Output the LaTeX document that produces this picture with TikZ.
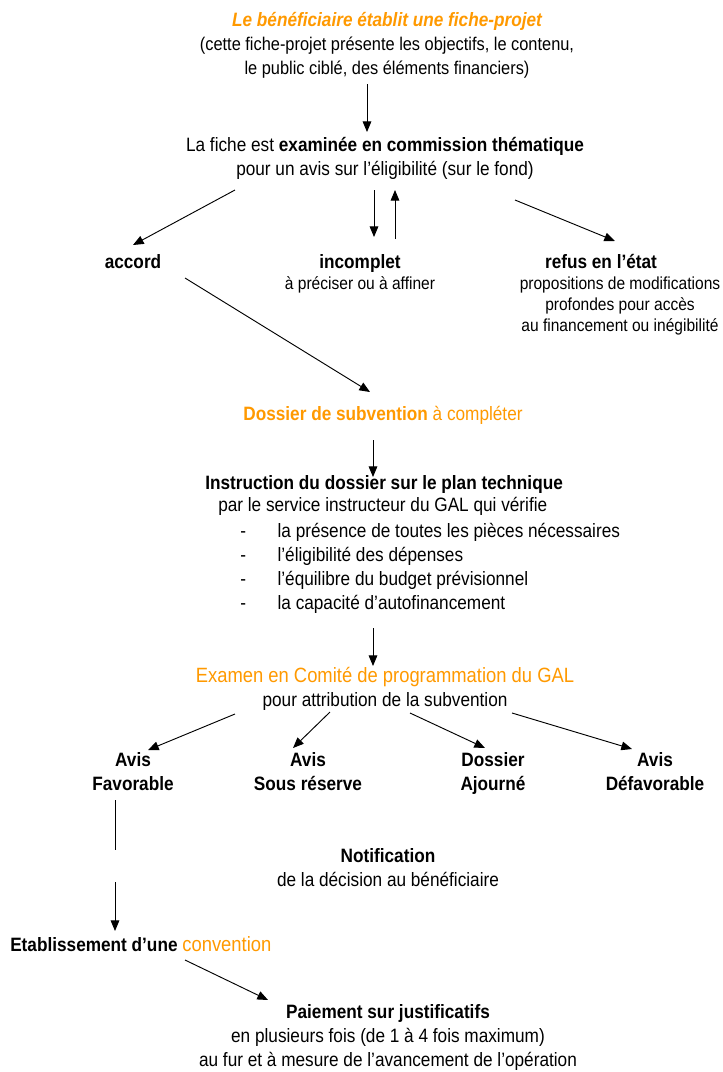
\documentclass[tikz,border=0pt]{standalone}
\usepackage{fontspec}
\setmainfont{Liberation Sans}[FakeStretch=0.89]
\usetikzlibrary{arrows.meta}
\definecolor{orng}{RGB}{255,153,0}
\newcommand{\fsn}{\fontsize{14.5}{18}\selectfont}
\newcommand{\fsm}{\fontsize{13.8}{18}\selectfont}
\newcommand{\fss}{\fontsize{13.1}{15.75}\selectfont}
\newcommand{\fsl}{\fontsize{15.5}{18}\selectfont}
\newcommand{\itm}{\makebox[28pt][l]{-}}
\begin{document}
\begin{tikzpicture}[x=0.75pt,y=-0.75pt,
  txt/.style={inner sep=0pt, anchor=north, align=center, font=\fsn},
  txs/.style={inner sep=0pt, anchor=north, align=center, font=\fss},
  arr/.style={-{Triangle[length=8pt,width=6.5pt]}, line width=0.7pt},
  ln/.style={line width=0.7pt}]
\useasboundingbox (0,0) rectangle (723,1072);

% nodes
\node[txt] (fiche) at (387,12) {{\color{orng}\bfseries\itshape Le bénéficiaire établit une fiche-projet}\\{\fsm (cette fiche-projet présente les objectifs, le contenu,}\\{\fsm le public ciblé, des éléments financiers)}};
\node[txt] (exam) at (385,137) {La fiche est \textbf{examinée en commission thématique}\\pour un avis sur l’éligibilité (sur le fond)};
\node[txt] (accord) at (133,254) {\textbf{accord}};
\node[txs] (incomplet) at (360,254) {{\fsn\bfseries incomplet}\\à préciser ou à affiner};
\node[txs] (refus) at (620,254) {{\fsn\bfseries refus en l’état}\hspace*{28.5pt}\\propositions de modifications\\profondes pour accès\\au financement ou inégibilité};
\node[txt] (dossier) at (383,406) {\color{orng}\textbf{Dossier de subvention} à compléter};
\node[txt, anchor=north west] (instr) at (205,475) {\textbf{Instruction du dossier sur le plan technique}};
\node[txt, anchor=north west] (service) at (218,497) {par le service instructeur du GAL qui vérifie};
\node[txt, anchor=north west, align=left] (liste) at (240,523) {\itm la présence de toutes les pièces nécessaires\\\itm l’éligibilité des dépenses\\\itm l’équilibre du budget prévisionnel\\\itm la capacité d’autofinancement};
\node[txt] (comite) at (385,667) {{\color{orng}\fsl Examen en Comité de programmation du GAL}\\pour attribution de la subvention};
\node[txt, font=\fsn\bfseries] (fav) at (133,752) {Avis\\Favorable};
\node[txt, font=\fsn\bfseries] (sous) at (308,752) {Avis\\Sous réserve};
\node[txt, font=\fsn\bfseries] (ajourne) at (493,752) {Dossier\\Ajourné};
\node[txt, font=\fsn\bfseries] (defav) at (655,752) {Avis\\Défavorable};
\node[txt] (notif) at (388,848) {\textbf{Notification}\\de la décision au bénéficiaire};
\node[txt, anchor=north west] (conv) at (10,936) {\textbf{Etablissement d’une} {\color{orng}\fsl convention}};
\node[txt] (paie) at (388,1004) {\textbf{Paiement sur justificatifs}\\en plusieurs fois (de 1 à 4 fois maximum)\\au fur et à mesure de l’avancement de l’opération};

% coordinates for connector ends
\coordinate (c1) at (367,84);   \coordinate (c1e) at (367,132);
\coordinate (c2) at (235,190);  \coordinate (c2e) at (133,245);
\coordinate (c3) at (374,190);  \coordinate (c3e) at (374,237);
\coordinate (c4) at (395,239);  \coordinate (c4e) at (395,190);
\coordinate (c5) at (515,200);  \coordinate (c5e) at (615,241);
\coordinate (c6) at (185,278);  \coordinate (c6e) at (370,392);
\coordinate (c7) at (373,440);  \coordinate (c7e) at (373,477);
\coordinate (c8) at (373,628);  \coordinate (c8e) at (373,666);
\coordinate (c9) at (235,714);  \coordinate (c9e) at (148,750);
\coordinate (c10) at (330,712); \coordinate (c10e) at (293,748);
\coordinate (c11) at (410,713); \coordinate (c11e) at (485,748);
\coordinate (c12) at (512,713); \coordinate (c12e) at (632,749);
\coordinate (c13) at (115,800); \coordinate (c13e) at (115,850);
\coordinate (c14) at (115,882); \coordinate (c14e) at (115,931);
\coordinate (c15) at (185,960); \coordinate (c15e) at (268,1000);

\draw[arr] (c1) -- (c1e);
\draw[arr] (c2) -- (c2e);
\draw[arr] (c3) -- (c3e);
\draw[arr] (c4) -- (c4e);
\draw[arr] (c5) -- (c5e);
\draw[arr] (c6) -- (c6e);
\draw[arr] (c7) -- (c7e);
\draw[arr] (c8) -- (c8e);
\draw[arr] (c9) -- (c9e);
\draw[arr] (c10) -- (c10e);
\draw[arr] (c11) -- (c11e);
\draw[arr] (c12) -- (c12e);
\draw[ln] (c13) -- (c13e);
\draw[arr] (c14) -- (c14e);
\draw[arr] (c15) -- (c15e);
\end{tikzpicture}
\end{document}
